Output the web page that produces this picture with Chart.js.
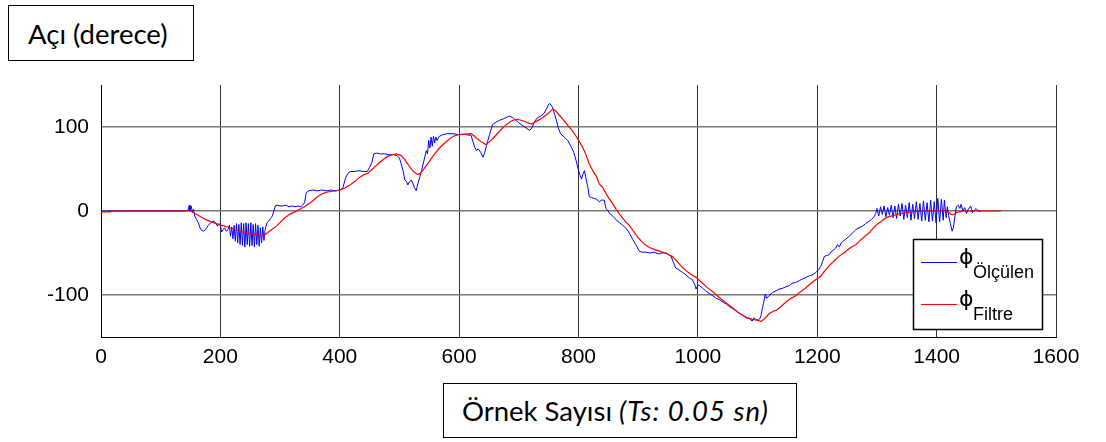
<!DOCTYPE html>
<html>
<head>
<meta charset="utf-8">
<script src="https://cdn.jsdelivr.net/npm/chart.js@4"></script>
<style>
  body { margin: 0; background: #fff; }
  #wrap { position: relative; width: 1106px; height: 442px; }
  #chart { position: absolute; left: 0; top: 0; }
  .axisBox {
    position: absolute;
    box-sizing: border-box;
    border: 1.5px solid #000;
    background: #fff;
    font-family: Lato, "Open Sans", sans-serif;
    color: #000;
    white-space: nowrap;
  }
  .axisBox span { position: absolute; line-height: 28px; }
  .axisBox i { letter-spacing: 1px; }
  #yTitle { left: 8px; top: 5px; width: 186px; height: 56px; }
  #yTitle span { left: 19px; top: 14px; font-size: 27.5px; }
  #xTitle { left: 443px; top: 383px; width: 354px; height: 55px; }
  #xTitle span { left: 18px; top: 13px; font-size: 27.5px; }
</style>
</head>
<body>
<div id="wrap">
  <canvas id="chart" width="1106" height="442"></canvas>
  <div class="axisBox" id="yTitle"><span>Açı (derece)</span></div>
  <div class="axisBox" id="xTitle"><span>Örnek Sayısı <i>(Ts: 0.05 sn)</i></span></div>
</div>
<script>
// measured angle (blue) — sample index / degrees
const olculenX = [0,30,60,100,140,146,148,149,151,153,155,157,160,163,167,171,174,177,180,184,188,191,195,198,200,202,205,207,210,213,
  215,217,219,221,223,225,227,229,231,233,235,237,239,241,243,245,247,249,251,253,255,257,259,261,263,265,267,269,271,273,275,
  278,281,284,287,290,292,295,300,305,310,315,320,325,330,335,338,341,344,348,355,362,370,378,385,393,400,405,410,414,418,425,432,440,446,
  450,454,457,462,468,475,482,490,496,500,503,506,509,512,514,517,520,523,525,528,531,534,537,541,545,547,549,551,553,555,557,559,561,563,567,
  573,580,590,598,610,620,623,626,629,632,636,640,643,646,651,656,662,668,675,684,690,695,700,706,712,718,722,726,731,737,742,746,750,752,756,
  760,763,766,770,776,782,788,792,796,800,803,805,808,810,813,816,818,822,826,830,835,839,843,846,849,852,856,860,865,869,874,880,885,891,896,
  902,907,913,920,927,934,940,947,951,955,959,963,968,974,980,986,991,995,997,1000,1003,1008,1013,1019,1025,1031,1037,1043,1048,1053,1058,
  1064,1070,1075,1080,1086,1091,1094,1097,1101,1104,1106,1108,1110,1113,1115,1119,1125,1131,1136,1142,1148,1153,1158,1164,1170,1175,1181,
  1187,1192,1198,1202,1206,1209,1212,1216,1220,1224,1228,1231,1234,1237,1240,1243,1247,1250,1254,1258,1262,1265,1270,1276,1281,1287,1291,1295,1298,
  1300,1303,1306,1309,1312,1315,1318,1321,1324,1327,1330,1333,1336,1339,1342,1345,1348,1351,1354,1357,1360,1363,1366,1369,1372,1375,1378,1381,
  1384,1387,1390,1393,1396,1399,1402,1405,1408,1411,1413,1416,1418,1420,1423,1426,1428,1431,1433,1436,1439,1441,1444,1447,1450,1453,1457,1460,
  1463,1466,1470,1474];
const olculenY = [0,0,0,0,0,1,7,0,6,-1,2,-6,-10,-14,-22,-24,-23,-20,-17,-14,-12,-13,-18,-15,-17,-25,-22,-20,-24,-22,
  -17,-30,-19,-33,-17,-36,-15,-38,-16,-40,-14,-41,-15,-43,-14,-40,-15,-42,-14,-41,-16,-43,-15,-40,-17,-42,-20,-38,-19,-35,-22,
  -14,-12,-9,-6,1,6,7,6,6,7,5,6,5,6,5,7,10,22,24,25,24,25,24,25,24,25,27,40,45,47,47,48,47,47,
  52,58,68,69,68,68,67,67,66,63,56,48,37,35,31,35,37,32,28,24,33,40,48,60,72,68,84,75,88,77,89,81,88,84,89,
  91,92,92,91,91,90,83,76,72,74,70,64,70,78,91,103,106,108,110,113,111,108,105,102,99,96,99,106,111,113,116,121,127,128,124,
  115,108,99,92,88,84,76,70,60,48,42,38,45,48,37,27,17,16,15,14,11,13,13,3,1,-3,-5,-8,-12,-14,-17,-21,-26,-34,-40,
  -48,-49,-49,-50,-49,-51,-50,-50,-52,-54,-61,-68,-70,-73,-76,-80,-82,-88,-93,-88,-89,-92,-95,-98,-101,-104,-106,-109,-111,-114,-116,
  -119,-122,-124,-127,-128,-131,-127,-129,-130,-128,-124,-116,-110,-99,-104,-101,-97,-95,-93,-92,-90,-89,-86,-85,-83,-81,-79,
  -77,-76,-73,-70,-66,-60,-54,-53,-52,-48,-46,-44,-40,-43,-38,-36,-34,-32,-30,-27,-24,-22,-20,-18,-15,-12,-10,-7,-3,
  3,-6,5,-4,6,-7,4,-5,7,-8,6,-9,8,-6,9,-10,7,-8,10,-11,8,-9,11,-10,9,-12,12,-11,
  10,-13,13,-12,11,-14,15,-13,14,-11,13,-8,5,-5,-15,-24,-20,-5,5,7,3,8,0,4,-3,2,6,-2,
  1,3,0,0];

// filtered angle (red)
const filtreX = [0,15,20,145,150,155,165,175,185,199,212,224,238,252,262,269,274,279,286,294,301,308,316,325,333,341,347,353,361,369,378,388,
  400,408,417,425,433,440,447,455,461,467,474,480,487,495,503,508,512,517,522,527,531,535,539,545,551,559,567,576,584,591,597,608,620,626,631,
  638,645,650,656,664,673,681,690,697,704,712,721,730,740,749,757,762,768,774,782,789,796,802,807,812,818,824,830,835,840,846,851,857,863,870,
  878,885,890,897,904,911,919,928,937,947,957,965,974,980,986,992,997,1003,1008,1014,1019,1025,1031,1039,1046,1053,1061,1068,1075,1083,1091,
  1098,1106,1112,1120,1127,1131,1139,1148,1156,1164,1172,1180,1188,1195,1201,1206,1212,1220,1229,1237,1246,1255,1265,1272,1280,1287,1294,1300,
  1307,1313,1320,1330,1340,1348,1360,1376,1395,1415,1420,1424,1427,1431,1434,1438,1446,1454,1480,1508];
const filtreY = [-1,-1,0,0,0,-2,-6,-10,-13,-16.5,-19,-22,-25,-27,-28.5,-29.5,-28.5,-26,-22,-18,-13,-8,-4,-1,2,5,8,11,16,20,22.5,23.5,
  24.7,27,31,35,40,43,45,50,54,58,62,65,67,68,66,62,58,53,48,45,43.5,45,48,54,60,68,75,81,86,89,90.6,91.5,92,89,85.6,
  82,79,82,86,92,99,104,108,109,108,106,103.5,107,111,116,121.5,119,114,109,102,96,89,82,75.6,68,56,48,41,32,28.6,21,15,9,2,-5,
  -12,-17,-22,-29,-35,-40,-43.5,-46,-48,-50.6,-54,-60,-67,-71,-74,-77,-79,-83,-86,-90,-93,-96,-100,-104.7,-109,-112.6,-117,-121,-124,-127,-129,
  -130,-131.4,-128,-122,-119,-118.4,-114,-108,-104,-100.8,-96,-92,-87,-83,-80,-77.6,-72,-65,-59,-53.7,-49,-44,-40,-35,-30,-26,-20,-16,
  -12.5,-9,-6.7,-5,-3,-2,-1,0,0,0,-1,-4,-4.7,-3,-1.5,-1,0,0,0,0];

const seriesNames = ['Ölçülen', 'Filtre'];
const seriesColors = ['#0000ff', '#ff0000'];
const xTicks = [0, 200, 400, 600, 800, 1000, 1200, 1400, 1600];
const yTicks = [-100, 0, 100];

const tickFont = { family: '"Liberation Sans", Arial, sans-serif', size: 21 };

function toPoints(xs, ys) {
  return xs.map((x, i) => ({ x: x, y: ys[i] }));
}

// boxed legend in the lower right, with phi + subscript names
const phiLegend = {
  id: 'phiLegend',
  afterDraw(chart) {
    const ctx = chart.ctx;
    const area = chart.chartArea;
    const w = 129, h = 90;
    const left = Math.round(area.right - 14 - w);
    const top = Math.round(area.bottom - 8 - h);
    ctx.save();
    ctx.fillStyle = '#fff';
    ctx.fillRect(left, top, w, h);
    ctx.strokeStyle = '#000';
    ctx.lineWidth = 1.5;
    ctx.strokeRect(left + 0.5, top + 0.5, w, h);
    seriesNames.forEach((name, i) => {
      const rowY = top + 23.5 + i * 42;
      ctx.strokeStyle = seriesColors[i];
      ctx.lineWidth = 1;
      ctx.beginPath();
      ctx.moveTo(left + 8, rowY);
      ctx.lineTo(left + 44, rowY);
      ctx.stroke();
      ctx.fillStyle = '#000';
      ctx.textBaseline = 'alphabetic';
      ctx.font = '22px "DejaVu Sans"';
      ctx.fillText('ϕ', left + 46, rowY + 1);
      ctx.font = '18px "Liberation Sans", Arial, sans-serif';
      ctx.fillText(name, left + 60, rowY + 15);
    });
    ctx.restore();
  }
};

new Chart(document.getElementById('chart'), {
  type: 'line',
  data: {
    datasets: [
      {
        label: seriesNames[0],
        data: toPoints(olculenX, olculenY),
        borderColor: seriesColors[0],
        borderWidth: 1,
        pointRadius: 0,
        tension: 0,
        order: 1
      },
      {
        label: seriesNames[1],
        data: toPoints(filtreX, filtreY),
        borderColor: seriesColors[1],
        borderWidth: 1.2,
        pointRadius: 0,
        tension: 0,
        order: 0
      }
    ]
  },
  options: {
    responsive: false,
    animation: false,
    layout: { padding: { top: 85, right: 50, bottom: 0, left: 0 } },
    plugins: {
      legend: { display: false },
      tooltip: { enabled: false }
    },
    scales: {
      x: {
        type: 'linear',
        min: 0,
        max: 1600,
        afterBuildTicks: (scale) => { scale.ticks = xTicks.map(v => ({ value: v })); },
        afterFit: (scale) => { scale.height = 105; },
        grid: { color: '#333', lineWidth: 1, drawTicks: false },
        border: { color: '#000', width: 1 },
        ticks: {
          padding: 8,
          color: '#000',
          font: tickFont,
          maxRotation: 0,
          callback: (v) => String(v)
        }
      },
      y: {
        min: -150,
        max: 150,
        afterBuildTicks: (scale) => { scale.ticks = yTicks.map(v => ({ value: v })); },
        afterFit: (scale) => { scale.width = 101; },
        grid: { color: '#777', lineWidth: 1.5, drawTicks: false },
        border: { color: '#000', width: 1 },
        ticks: {
          padding: 12,
          color: '#000',
          font: tickFont,
          callback: (v) => String(v)
        }
      }
    }
  },
  plugins: [phiLegend]
});
</script>
</body>
</html>
